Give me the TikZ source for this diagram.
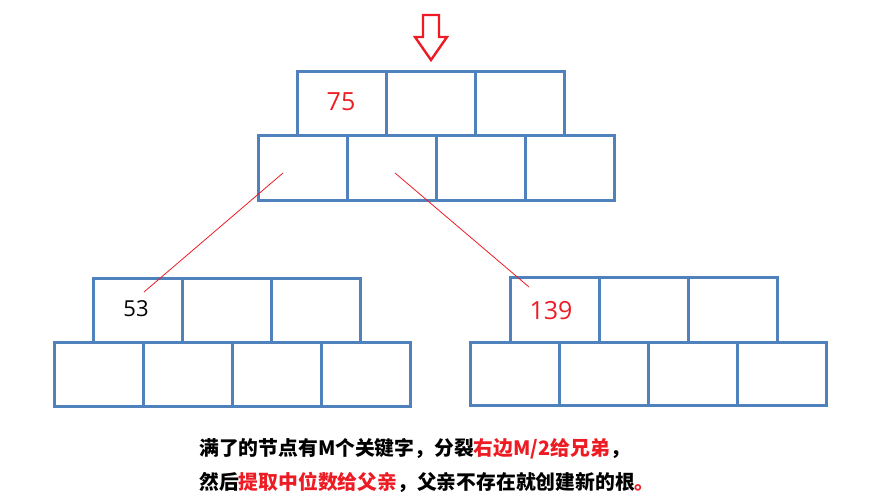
\documentclass[tikz,border=0pt]{standalone}
\usepackage{fontspec}
\setmainfont{Open Sans}
\newfontfamily\cjk{Noto Sans CJK SC}
\definecolor{bl}{RGB}{79,129,189}
\definecolor{rd}{RGB}{237,28,36}
\tikzset{
  cell/.style={draw=bl, line width=3pt, inner sep=0pt, anchor=north west,
    minimum width=89pt, minimum height=64pt},
  link/.style={draw=rd, line width=0.8pt},
  key/.style={inner sep=0pt, font=\fontsize{25}{29}\selectfont},
  note/.style={inner sep=0pt, anchor=west, font=\cjk\bfseries\fontsize{19.8}{23}\selectfont}
}
\begin{document}
\begin{tikzpicture}[x=1pt,y=-1pt]
\useasboundingbox (0,0) rectangle (873,500);
% top node
\node[cell] (a1) at (296,70) {};
\node[cell] (a2) at (385,70) {};
\node[cell] (a3) at (474,70) {};
\node[cell,minimum height=65pt] (b1) at (257,134) {};
\node[cell,minimum height=65pt] (b2) at (346,134) {};
\node[cell,minimum height=65pt] (b3) at (435,134) {};
\node[cell,minimum height=65pt] (b4) at (524,134) {};
% left node
\node[cell] (c1) at (92,277) {};
\node[cell] (c2) at (181,277) {};
\node[cell] (c3) at (270,277) {};
\node[cell] (d1) at (53,341) {};
\node[cell] (d2) at (142,341) {};
\node[cell] (d3) at (231,341) {};
\node[cell] (d4) at (320,341) {};
% right node
\node[cell,minimum height=65pt] (e1) at (509,276) {};
\node[cell,minimum height=65pt] (e2) at (598,276) {};
\node[cell,minimum height=65pt] (e3) at (687,276) {};
\node[cell,minimum height=63pt] (f1) at (469,341) {};
\node[cell,minimum height=63pt] (f2) at (558,341) {};
\node[cell,minimum height=63pt] (f3) at (647,341) {};
\node[cell,minimum height=63pt] (f4) at (736,341) {};
% keys
\node[key,text=rd] (k75) at (341,102) {75};
\node[key,font=\fontsize{22}{26}\selectfont] (k53) at (136,309) {53};
\node[key,text=rd] (k139) at (551,311) {139};
% arrow
\draw[rd, line width=2.4pt, line join=miter]
  (423,15) -- (439,15) -- (439,37) -- (447,37) -- (431,60) -- (415,37) -- (423,37) -- cycle;
% links
\coordinate (ls) at (283,173);
\coordinate (le) at (144,292);
\coordinate (rs) at (395,173);
\coordinate (re) at (529,287);
\draw[link] (ls) -- (le);
\draw[link] (rs) -- (re);
% caption
\node[note] (t1) at (199,449) {满了的节点有M个关键字，分裂\textcolor{rd}{右边M/2给兄弟}，};
\node[note] (t2) at (199,482) {然后\textcolor{rd}{提取中位数给父亲}，父亲不存在就创建新的根\textcolor{rd}{。}};
\end{tikzpicture}
\end{document}
